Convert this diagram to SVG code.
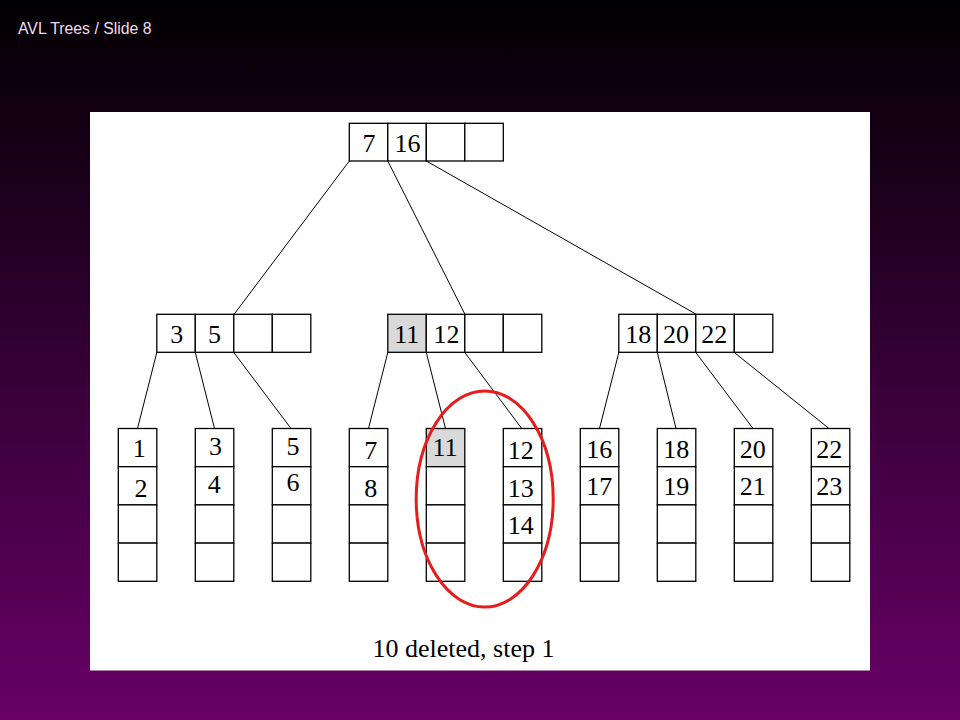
<svg xmlns="http://www.w3.org/2000/svg" width="960" height="720" viewBox="0 0 960 720">
<defs>
<linearGradient id="bg" x1="0" y1="0" x2="0" y2="1">
<stop offset="0" stop-color="#000000"/>
<stop offset="0.02" stop-color="#030003"/>
<stop offset="1" stop-color="#680068"/>
</linearGradient>
<style>
.c{fill:#ffffff;stroke:#000000;stroke-width:1.3}
.g{fill:#d9d9d9;stroke:#000000;stroke-width:1.3}
.t{font-family:"Liberation Serif","Times New Roman",serif;font-size:26px;fill:#000000;text-anchor:middle}
.e{stroke:#000000;stroke-width:1;fill:none}
</style>
</defs>
<rect x="0" y="0" width="960" height="720" fill="url(#bg)"/>
<text x="18" y="33.5" font-family="Liberation Sans, Arial, sans-serif" font-size="15.8" fill="#f2dcf2">AVL Trees / Slide 8</text>
<rect x="90" y="112" width="780" height="558.5" fill="#ffffff"/>

<g id="connectors">
<line class="e" x1="349.3" y1="161" x2="234.3" y2="314"/>
<line class="e" x1="387.8" y1="161" x2="464.8" y2="314"/>
<line class="e" x1="426.3" y1="161" x2="695.8" y2="314"/>
<line class="e" x1="156.8" y1="352.5" x2="137.5" y2="428.5"/>
<line class="e" x1="195.3" y1="352.5" x2="214.5" y2="428.5"/>
<line class="e" x1="233.8" y1="352.5" x2="291" y2="428.5"/>
<line class="e" x1="387.8" y1="352.5" x2="368.5" y2="428.5"/>
<line class="e" x1="426.3" y1="352.5" x2="445.5" y2="428.5"/>
<line class="e" x1="464.8" y1="352.5" x2="521.7" y2="428.5"/>
<line class="e" x1="618.8" y1="352.5" x2="599.5" y2="428.5"/>
<line class="e" x1="657.3" y1="352.5" x2="676" y2="428.5"/>
<line class="e" x1="695.8" y1="352.5" x2="753" y2="428.5"/>
<line class="e" x1="734.3" y1="352.5" x2="829" y2="428.5"/>
</g>

<g id="root">
<rect class="c" x="349.3" y="123.3" width="38.5" height="37.7"/>
<rect class="c" x="387.8" y="123.3" width="38.5" height="37.7"/>
<rect class="c" x="426.3" y="123.3" width="38.5" height="37.7"/>
<rect class="c" x="464.8" y="123.3" width="38.5" height="37.7"/>
<text class="t" x="369" y="152">7</text>
<text class="t" x="407.5" y="152">16</text>
</g>

<g id="mid-left">
<rect class="c" x="156.8" y="314.3" width="38.5" height="38"/>
<rect class="c" x="195.3" y="314.3" width="38.5" height="38"/>
<rect class="c" x="233.8" y="314.3" width="38.5" height="38"/>
<rect class="c" x="272.3" y="314.3" width="38.5" height="38"/>
<text class="t" x="176.7" y="343">3</text>
<text class="t" x="214.5" y="343">5</text>
</g>

<g id="mid-center">
<rect class="g" x="387.8" y="314.3" width="38.5" height="38"/>
<rect class="c" x="426.3" y="314.3" width="38.5" height="38"/>
<rect class="c" x="464.8" y="314.3" width="38.5" height="38"/>
<rect class="c" x="503.3" y="314.3" width="38.5" height="38"/>
<text class="t" x="406.7" y="343">11</text>
<text class="t" x="446.5" y="343">12</text>
</g>

<g id="mid-right">
<rect class="c" x="618.8" y="314.3" width="38.5" height="38"/>
<rect class="c" x="657.3" y="314.3" width="38.5" height="38"/>
<rect class="c" x="695.8" y="314.3" width="38.5" height="38"/>
<rect class="c" x="734.3" y="314.3" width="38.5" height="38"/>
<text class="t" x="638.3" y="343">18</text>
<text class="t" x="676" y="343">20</text>
<text class="t" x="714.3" y="343">22</text>
</g>

<g id="leaf1">
<rect class="c" x="118.3" y="428.5" width="38.5" height="38.2"/>
<rect class="c" x="118.3" y="466.7" width="38.5" height="38.2"/>
<rect class="c" x="118.3" y="504.9" width="38.5" height="38.2"/>
<rect class="c" x="118.3" y="543.1" width="38.5" height="38.2"/>
<text class="t" x="139.3" y="457">1</text>
<text class="t" x="141" y="497">2</text>
</g>
<g id="leaf2">
<rect class="c" x="195.3" y="428.5" width="38.5" height="38.2"/>
<rect class="c" x="195.3" y="466.7" width="38.5" height="38.2"/>
<rect class="c" x="195.3" y="504.9" width="38.5" height="38.2"/>
<rect class="c" x="195.3" y="543.1" width="38.5" height="38.2"/>
<text class="t" x="215.5" y="454.5">3</text>
<text class="t" x="214.3" y="493">4</text>
</g>
<g id="leaf3">
<rect class="c" x="272.3" y="428.5" width="38.5" height="38.2"/>
<rect class="c" x="272.3" y="466.7" width="38.5" height="38.2"/>
<rect class="c" x="272.3" y="504.9" width="38.5" height="38.2"/>
<rect class="c" x="272.3" y="543.1" width="38.5" height="38.2"/>
<text class="t" x="293" y="454.5">5</text>
<text class="t" x="293" y="491">6</text>
</g>
<g id="leaf4">
<rect class="c" x="349.3" y="428.5" width="38.5" height="38.2"/>
<rect class="c" x="349.3" y="466.7" width="38.5" height="38.2"/>
<rect class="c" x="349.3" y="504.9" width="38.5" height="38.2"/>
<rect class="c" x="349.3" y="543.1" width="38.5" height="38.2"/>
<text class="t" x="370.7" y="459">7</text>
<text class="t" x="370.7" y="497">8</text>
</g>
<g id="leaf5">
<rect class="g" x="426.3" y="428.5" width="38.5" height="38.2"/>
<rect class="c" x="426.3" y="466.7" width="38.5" height="38.2"/>
<rect class="c" x="426.3" y="504.9" width="38.5" height="38.2"/>
<rect class="c" x="426.3" y="543.1" width="38.5" height="38.2"/>
<text class="t" x="445" y="456">11</text>
</g>
<g id="leaf6">
<rect class="c" x="503.3" y="428.5" width="38.5" height="38.2"/>
<rect class="c" x="503.3" y="466.7" width="38.5" height="38.2"/>
<rect class="c" x="503.3" y="504.9" width="38.5" height="38.2"/>
<rect class="c" x="503.3" y="543.1" width="38.5" height="38.2"/>
<text class="t" x="520.7" y="459">12</text>
<text class="t" x="520.7" y="497">13</text>
<text class="t" x="520.7" y="533.5">14</text>
</g>
<g id="leaf7">
<rect class="c" x="580.3" y="428.5" width="38.5" height="38.2"/>
<rect class="c" x="580.3" y="466.7" width="38.5" height="38.2"/>
<rect class="c" x="580.3" y="504.9" width="38.5" height="38.2"/>
<rect class="c" x="580.3" y="543.1" width="38.5" height="38.2"/>
<text class="t" x="599.3" y="457.5">16</text>
<text class="t" x="599.3" y="495">17</text>
</g>
<g id="leaf8">
<rect class="c" x="657.3" y="428.5" width="38.5" height="38.2"/>
<rect class="c" x="657.3" y="466.7" width="38.5" height="38.2"/>
<rect class="c" x="657.3" y="504.9" width="38.5" height="38.2"/>
<rect class="c" x="657.3" y="543.1" width="38.5" height="38.2"/>
<text class="t" x="676.3" y="457.5">18</text>
<text class="t" x="676.3" y="495">19</text>
</g>
<g id="leaf9">
<rect class="c" x="734.3" y="428.5" width="38.5" height="38.2"/>
<rect class="c" x="734.3" y="466.7" width="38.5" height="38.2"/>
<rect class="c" x="734.3" y="504.9" width="38.5" height="38.2"/>
<rect class="c" x="734.3" y="543.1" width="38.5" height="38.2"/>
<text class="t" x="752.7" y="457.5">20</text>
<text class="t" x="752.7" y="495">21</text>
</g>
<g id="leaf10">
<rect class="c" x="811.3" y="428.5" width="38.5" height="38.2"/>
<rect class="c" x="811.3" y="466.7" width="38.5" height="38.2"/>
<rect class="c" x="811.3" y="504.9" width="38.5" height="38.2"/>
<rect class="c" x="811.3" y="543.1" width="38.5" height="38.2"/>
<text class="t" x="829.3" y="457.5">22</text>
<text class="t" x="829.3" y="495">23</text>
</g>

<ellipse id="highlight" cx="484.7" cy="499" rx="68.5" ry="108" fill="none" stroke="#e81c1c" stroke-width="3"/>

<text id="caption" class="t" x="463.5" y="657">10 deleted, step 1</text>
</svg>
